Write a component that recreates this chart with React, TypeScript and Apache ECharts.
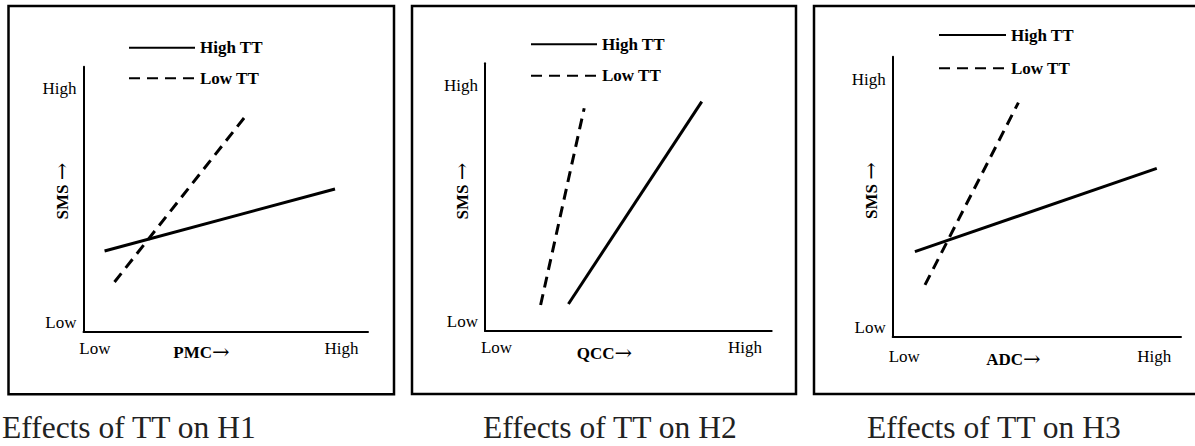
import React, { useEffect, useRef } from "react";
import * as echarts from "echarts";

// ---- data ----
const seriesNames = ["High TT", "Low TT"];
const tickLabels = ["Low", "High"];
const xTickValues = [0.4, 9.07];
const yTickValues = [0.34, 9.17];
const xTitles = ["PMC", "QCC", "ADC"];
const yTitle = "SMS ";
const arrow = "→";
const captions = ["Effects of TT on H1", "Effects of TT on H2", "Effects of TT on H3"];

const highTT_H1 = [[0.74, 3.04], [8.84, 5.38]];
const lowTT_H1 = [[1.09, 1.87], [5.67, 8.1]];
const highTT_H2 = [[2.91, 1.01], [7.56, 8.57]];
const lowTT_H2 = [[1.94, 0.97], [3.46, 8.32]];
const highTT_H3 = [[0.77, 3.04], [9.16, 6.01]];
const lowTT_H3 = [[1.12, 1.85], [4.36, 8.36]];

const highSeries = [highTT_H1, highTT_H2, highTT_H3];
const lowSeries = [lowTT_H1, lowTT_H2, lowTT_H3];

// ---- layout ----
const SERIF = "'Liberation Serif', 'Times New Roman', serif";
const panels = [
  {
    box: { x: 8.5, y: 6, w: 385.5, h: 388.3 },
    grid: { left: 83.5, top: 66.7, width: 284.5, height: 264.8 },
    xLabelMargin: 8,
    xTitle: { x: 201.5, y: 352 },
    yTitle: { x: 62, y: 191 },
    legend: { left: 128, top: 37.7, gap: 10.6, w: 66 },
    caption: { x: 2, y: 427 },
  },
  {
    box: { x: 412, y: 6, w: 384, h: 388 },
    grid: { left: 485, top: 63.3, width: 286.7, height: 267.7 },
    xLabelMargin: 8,
    xTitle: { x: 604.5, y: 353 },
    yTitle: { x: 462, y: 191 },
    legend: { left: 530, top: 34.3, gap: 11.4, w: 66 },
    caption: { x: 483, y: 427 },
  },
  {
    box: { x: 814, y: 6, w: 384, h: 388 },
    grid: { left: 892.7, top: 56.7, width: 288.3, height: 280 },
    xLabelMargin: 11,
    xTitle: { x: 1013.5, y: 359 },
    yTitle: { x: 871, y: 190.5 },
    legend: { left: 938, top: 25, gap: 13.3, w: 67 },
    caption: { x: 867, y: 427 },
  },
];

const labelFor = (values: number[]) => (v: number) => {
  let best = 0;
  values.forEach((t, i) => {
    if (Math.abs(t - v) < Math.abs(values[best] - v)) best = i;
  });
  return tickLabels[best];
};

const titleRich = {
  t: { fontFamily: SERIF, fontWeight: "bold", fontSize: 17, fill: "#000", color: "#000" },
  a: { fontFamily: "'DejaVu Serif', serif", fontWeight: "normal", fontSize: 21, fill: "#000", color: "#000" },
};

export default function App() {
  const ref = useRef<HTMLDivElement>(null);
  useEffect(() => {
    if (!ref.current) return;
    const chart = echarts.init(ref.current, undefined, { renderer: "svg" });

    const axisLine = { show: true, lineStyle: { color: "#000", width: 2 } };
    const grid = panels.map((p) => ({ ...p.grid }));
    const xAxis = panels.map((p, i) => ({
      type: "value",
      gridIndex: i,
      min: 0,
      max: 10,
      axisLine,
      axisTick: { show: false },
      splitLine: { show: false },
      axisLabel: {
        customValues: xTickValues,
        formatter: labelFor(xTickValues),
        fontFamily: SERIF,
        fontSize: 17,
        color: "#000",
        margin: p.xLabelMargin,
      },
    }));
    const yAxis = panels.map((p, i) => ({
      type: "value",
      gridIndex: i,
      min: 0,
      max: 10,
      axisLine,
      axisTick: { show: false },
      splitLine: { show: false },
      axisLabel: {
        customValues: yTickValues,
        formatter: labelFor(yTickValues),
        fontFamily: SERIF,
        fontSize: 17,
        color: "#000",
        margin: 7,
      },
    }));

    const series: any[] = [];
    panels.forEach((_, i) => {
      series.push({
        name: seriesNames[0],
        type: "line",
        xAxisIndex: i,
        yAxisIndex: i,
        data: highSeries[i],
        symbol: "none",
        showSymbol: false,
        lineStyle: { color: "#000", width: 3, type: "solid" },
        itemStyle: { color: "#000" },
      });
      series.push({
        name: seriesNames[1],
        type: "line",
        xAxisIndex: i,
        yAxisIndex: i,
        data: lowSeries[i],
        symbol: "none",
        showSymbol: false,
        lineStyle: { color: "#000", width: 3, type: [11, 7] },
        itemStyle: { color: "#000" },
      });
    });

    const legend = panels.map((p) => ({
      data: seriesNames,
      orient: "vertical",
      left: p.legend.left,
      top: p.legend.top,
      itemGap: p.legend.gap,
      itemWidth: p.legend.w,
      itemHeight: 20,
      padding: 0,
      selectedMode: false,
      itemStyle: { color: "rgba(0,0,0,0)", opacity: 0, borderWidth: 0 },
      textStyle: {
        fontFamily: SERIF,
        fontWeight: "bold",
        fontSize: 17,
        lineHeight: 20,
        color: "#000",
      },
    }));

    const graphic: any[] = [];
    panels.forEach((p, i) => {
      graphic.push({
        type: "rect",
        shape: { x: p.box.x, y: p.box.y, width: p.box.w, height: p.box.h },
        style: { fill: "none", stroke: "#000", lineWidth: 2.5 },
        silent: true,
      });
      graphic.push({
        type: "text",
        x: p.xTitle.x,
        y: p.xTitle.y,
        style: {
          text: `{t|${xTitles[i]}}{a|${arrow}}`,
          rich: titleRich,
          fill: "#000",
          align: "center",
          verticalAlign: "middle",
          textAlign: "center",
          textVerticalAlign: "middle",
        },
      });
      graphic.push({
        type: "text",
        x: p.yTitle.x,
        y: p.yTitle.y,
        rotation: Math.PI / 2,
        style: {
          text: `{t|${yTitle}}{a|${arrow}}`,
          rich: titleRich,
          fill: "#000",
          align: "center",
          verticalAlign: "middle",
          textAlign: "center",
          textVerticalAlign: "middle",
        },
      });
      graphic.push({
        type: "text",
        x: p.caption.x,
        y: p.caption.y,
        style: {
          text: captions[i],
          font: `31.5px ${SERIF}`,
          fill: "#222",
          align: "left",
          verticalAlign: "middle",
          textAlign: "left",
          textVerticalAlign: "middle",
        },
      });
    });

    chart.setOption({
      animation: false,
      backgroundColor: "#fff",
      grid,
      xAxis,
      yAxis,
      legend,
      series,
      graphic,
    });
    return () => chart.dispose();
  }, []);

  return (
    <div
      ref={ref}
      style={{ position: "absolute", left: 0, top: 0, width: 1195, height: 446 }}
    />
  );
}
